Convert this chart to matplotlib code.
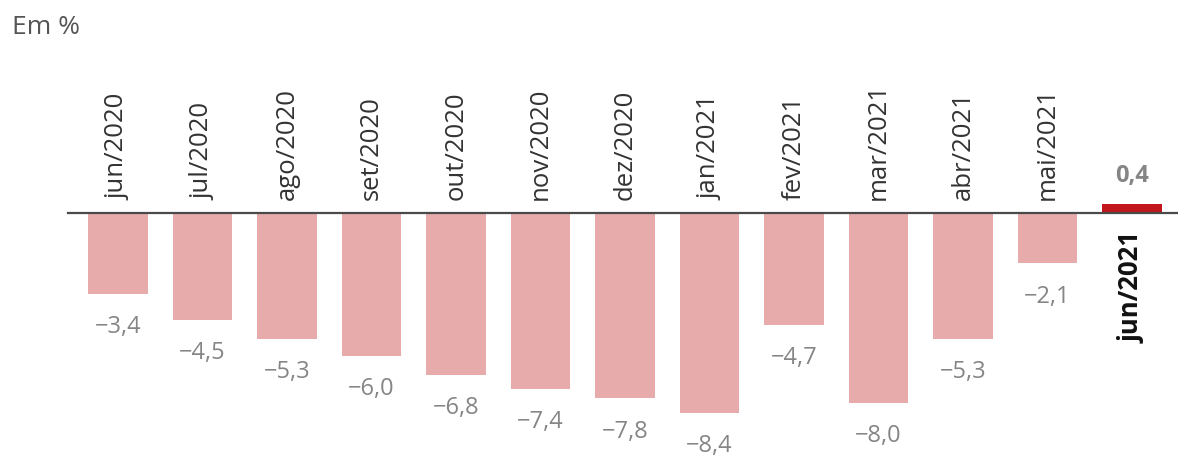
import matplotlib
matplotlib.use("Agg")
import matplotlib.pyplot as plt

months = ["jun/2020", "jul/2020", "ago/2020", "set/2020", "out/2020", "nov/2020",
          "dez/2020", "jan/2021", "fev/2021", "mar/2021", "abr/2021", "mai/2021", "jun/2021"]
values = [-3.4, -4.5, -5.3, -6.0, -6.8, -7.4, -7.8, -8.4, -4.7, -8.0, -5.3, -2.1, 0.4]
value_labels = ["−3,4", "−4,5", "−5,3", "−6,0", "−6,8", "−7,4", "−7,8", "−8,4",
                "−4,7", "−8,0", "−5,3", "−2,1", "0,4"]

plt.rcParams['font.family'] = ['Open Sans', 'DejaVu Sans']

W, H = 1178, 457
fig = plt.figure(figsize=(W / 100, H / 100), dpi=100)
ax = fig.add_axes([0, 0, 1, 1])
ax.axis('off')

px_unit = 23.7
zero_y = 213.5
x0 = 118
dx = 84.5
ax.set_xlim(-x0 / dx, (W - x0) / dx)
ax.set_ylim(-(H - zero_y) / px_unit, zero_y / px_unit)

pink = "#e8abab"
red = "#c1161c"
n = len(values)
xs = list(range(n))
colors = [pink] * (n - 1) + [red]
ax.bar(xs, values, width=0.70, color=colors, zorder=2)

# zero line
ax.plot([(68 - x0) / dx, (W - x0) / dx], [0, 0], color="#4a4a4a", lw=1.6, zorder=3)

for i, (m, v, lab) in enumerate(zip(months, values, value_labels)):
    if i < n - 1:
        ax.annotate(m, (i, 0), xytext=(0, 10), textcoords="offset points",
                    rotation=90, ha="center", va="bottom", fontsize=18.5,
                    color="#333333")
        ax.annotate(lab, (i, v), xytext=(0, -24), textcoords="offset points",
                    ha="center", va="center", fontsize=17, color="#858585")
    else:
        ax.annotate(m, (i, 0), xytext=(0, -13), textcoords="offset points",
                    rotation=90, ha="center", va="top", fontsize=18.5,
                    color="#111111", fontweight="bold")
        ax.annotate(lab, (i, v), xytext=(0, 20), textcoords="offset points",
                    ha="center", va="center", fontsize=17, color="#858585",
                    fontweight="bold")

fig.text(12 / W, 1 - 27 / H, "Em %", ha="left", va="center", fontsize=19,
         color="#555555")

fig.savefig("out.png", dpi=100)
